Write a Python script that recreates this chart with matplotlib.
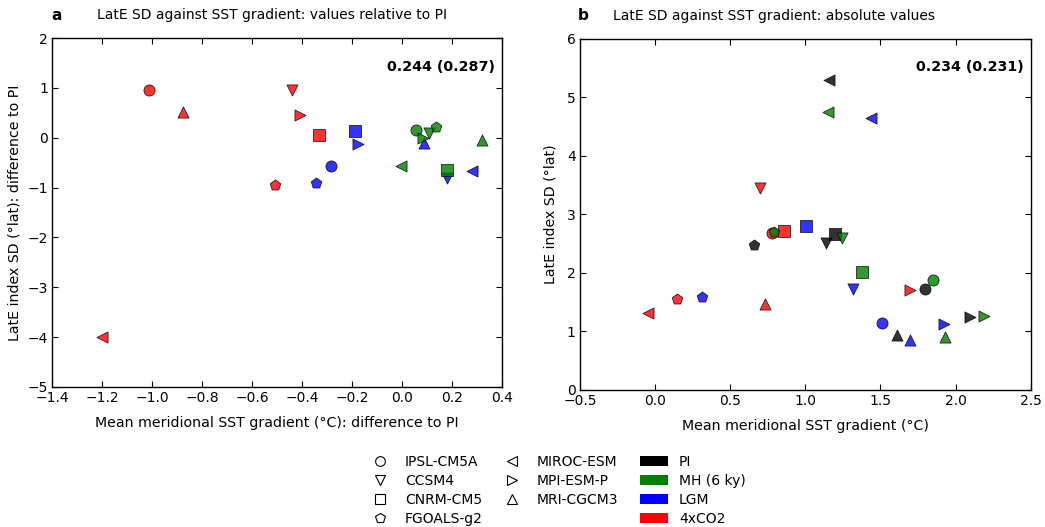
import matplotlib
matplotlib.use('Agg')
import matplotlib.pyplot as plt
from matplotlib.lines import Line2D
from matplotlib.patches import Patch

models = ['IPSL-CM5A', 'CCSM4', 'CNRM-CM5', 'FGOALS-g2', 'MIROC-ESM', 'MPI-ESM-P', 'MRI-CGCM3']
markers = ['o', 'v', 's', 'p', '<', '>', '^']
periods = ['PI', 'MH (6 ky)', 'LGM', '4xCO2']
colors = ['k', 'g', 'b', 'r']

# panel b: absolute values, model order as above
pi_x = [1.797, 1.14, 1.199, 0.658, 1.16, 2.097, 1.61]
pi_y = [1.72, 2.51, 2.66, 2.475, 5.29, 1.25, 0.94]
mh_x = [1.853, 1.245, 1.376, 0.79, 1.15, 2.186, 1.93]
mh_y = [1.88, 2.60, 2.02, 2.69, 4.75, 1.26, 0.91]
lgm_x = [1.51, 1.316, 1.007, 0.315, 1.437, 1.92, 1.70]
lgm_y = [1.147, 1.72, 2.805, 1.58, 4.64, 1.125, 0.85]
co2_x = [0.78, 0.698, 0.86, 0.148, -0.045, 1.694, 0.734]
co2_y = [2.675, 3.455, 2.71, 1.55, 1.32, 1.70, 1.47]

# panel a: differences to PI
mh_dx = [0.056, 0.106, 0.178, 0.136, -0.004, 0.082, 0.318]
mh_dy = [0.16, 0.10, -0.64, 0.21, -0.56, 0.0, -0.05]
lgm_dx = [-0.284, 0.178, -0.188, -0.343, 0.281, -0.175, 0.089]
lgm_dy = [-0.575, -0.80, 0.14, -0.91, -0.66, -0.13, -0.11]
co2_dx = [-1.014, -0.439, -0.334, -0.51, -1.2, -0.407, -0.876]
co2_dy = [0.955, 0.95, 0.05, -0.945, -4.0, 0.457, 0.523]

corr_a = '0.244 (0.287)'
corr_b = '0.234 (0.231)'

fig = plt.figure(figsize=(10.45, 5.27), dpi=100)
ax1 = fig.add_axes([0.0498, 0.2657, 0.4306, 0.662])
ax2 = fig.add_axes([0.555, 0.2603, 0.4313, 0.666])


def draw(ax, sets):
    for xs, ys, c in sets:
        for i in range(len(models)):
            ax.scatter(xs[i], ys[i], marker=markers[i], s=64, c=c, alpha=0.8,
                       edgecolors='k', linewidths=0.6, zorder=3)


draw(ax1, [(lgm_dx, lgm_dy, colors[2]), (co2_dx, co2_dy, colors[3]),
           (mh_dx, mh_dy, colors[1])])
draw(ax2, [(pi_x, pi_y, colors[0]), (lgm_x, lgm_y, colors[2]),
           (co2_x, co2_y, colors[3]), (mh_x, mh_y, colors[1])])

ax1.set_xlim(-1.4, 0.4)
ax1.set_ylim(-5, 2)
ax2.set_xlim(-0.5, 2.5)
ax2.set_ylim(0, 6)

for ax in (ax1, ax2):
    ax.tick_params(direction='in', top=True, right=True, length=4,
                   labelsize=10, pad=3)
    for sp in ax.spines.values():
        sp.set_linewidth(1.0)

ax1.set_xlabel('Mean meridional SST gradient (°C): difference to PI', fontsize=10.2, labelpad=8)
ax1.set_ylabel('LatE index SD (°lat): difference to PI', fontsize=10.2, labelpad=4)
ax2.set_xlabel('Mean meridional SST gradient (°C)', fontsize=10.2, labelpad=8)
ax2.set_ylabel('LatE index SD (°lat)', fontsize=10.2, labelpad=7)

ax1.text(0.011, 1.066, 'a', transform=ax1.transAxes, fontsize=11,
         fontweight='bold', ha='center', va='center')
ax1.text(0.10, 1.066, 'LatE SD against SST gradient: values relative to PI',
         transform=ax1.transAxes, fontsize=10, ha='left', va='center')
ax2.text(0.007, 1.066, 'b', transform=ax2.transAxes, fontsize=11,
         fontweight='bold', ha='center', va='center')
ax2.text(0.073, 1.066, 'LatE SD against SST gradient: absolute values',
         transform=ax2.transAxes, fontsize=10, ha='left', va='center')

ax1.text(0.984, 0.917, corr_a, transform=ax1.transAxes, fontsize=10.3,
         fontweight='bold', ha='right', va='center')
ax2.text(0.984, 0.92, corr_b, transform=ax2.transAxes, fontsize=10.3,
         fontweight='bold', ha='right', va='center')

# legends below the panels
mhandles = [Line2D([], [], marker=m, ls='none', mfc='none', mec='k', ms=7, mew=0.8)
            for m in markers]
mlabels = list(models)
mhandles.append(Line2D([], [], ls='none'))
mlabels.append(' ')
fig.legend(mhandles, mlabels, loc='upper left', bbox_to_anchor=(366 / 1045, 1 - 455 / 527),
           ncol=2, frameon=False, fontsize=10, handlelength=2, handletextpad=0.8,
           columnspacing=1.1, labelspacing=0.35, borderpad=0, borderaxespad=0)

phandles = [Patch(facecolor=c, edgecolor='none') for c in colors]
fig.legend(phandles, periods, loc='upper left', bbox_to_anchor=(640 / 1045, 1 - 455 / 527),
           frameon=False, fontsize=10, handlelength=2, handletextpad=0.8,
           labelspacing=0.35, borderpad=0, borderaxespad=0)

fig.savefig('out.png', dpi=100)
